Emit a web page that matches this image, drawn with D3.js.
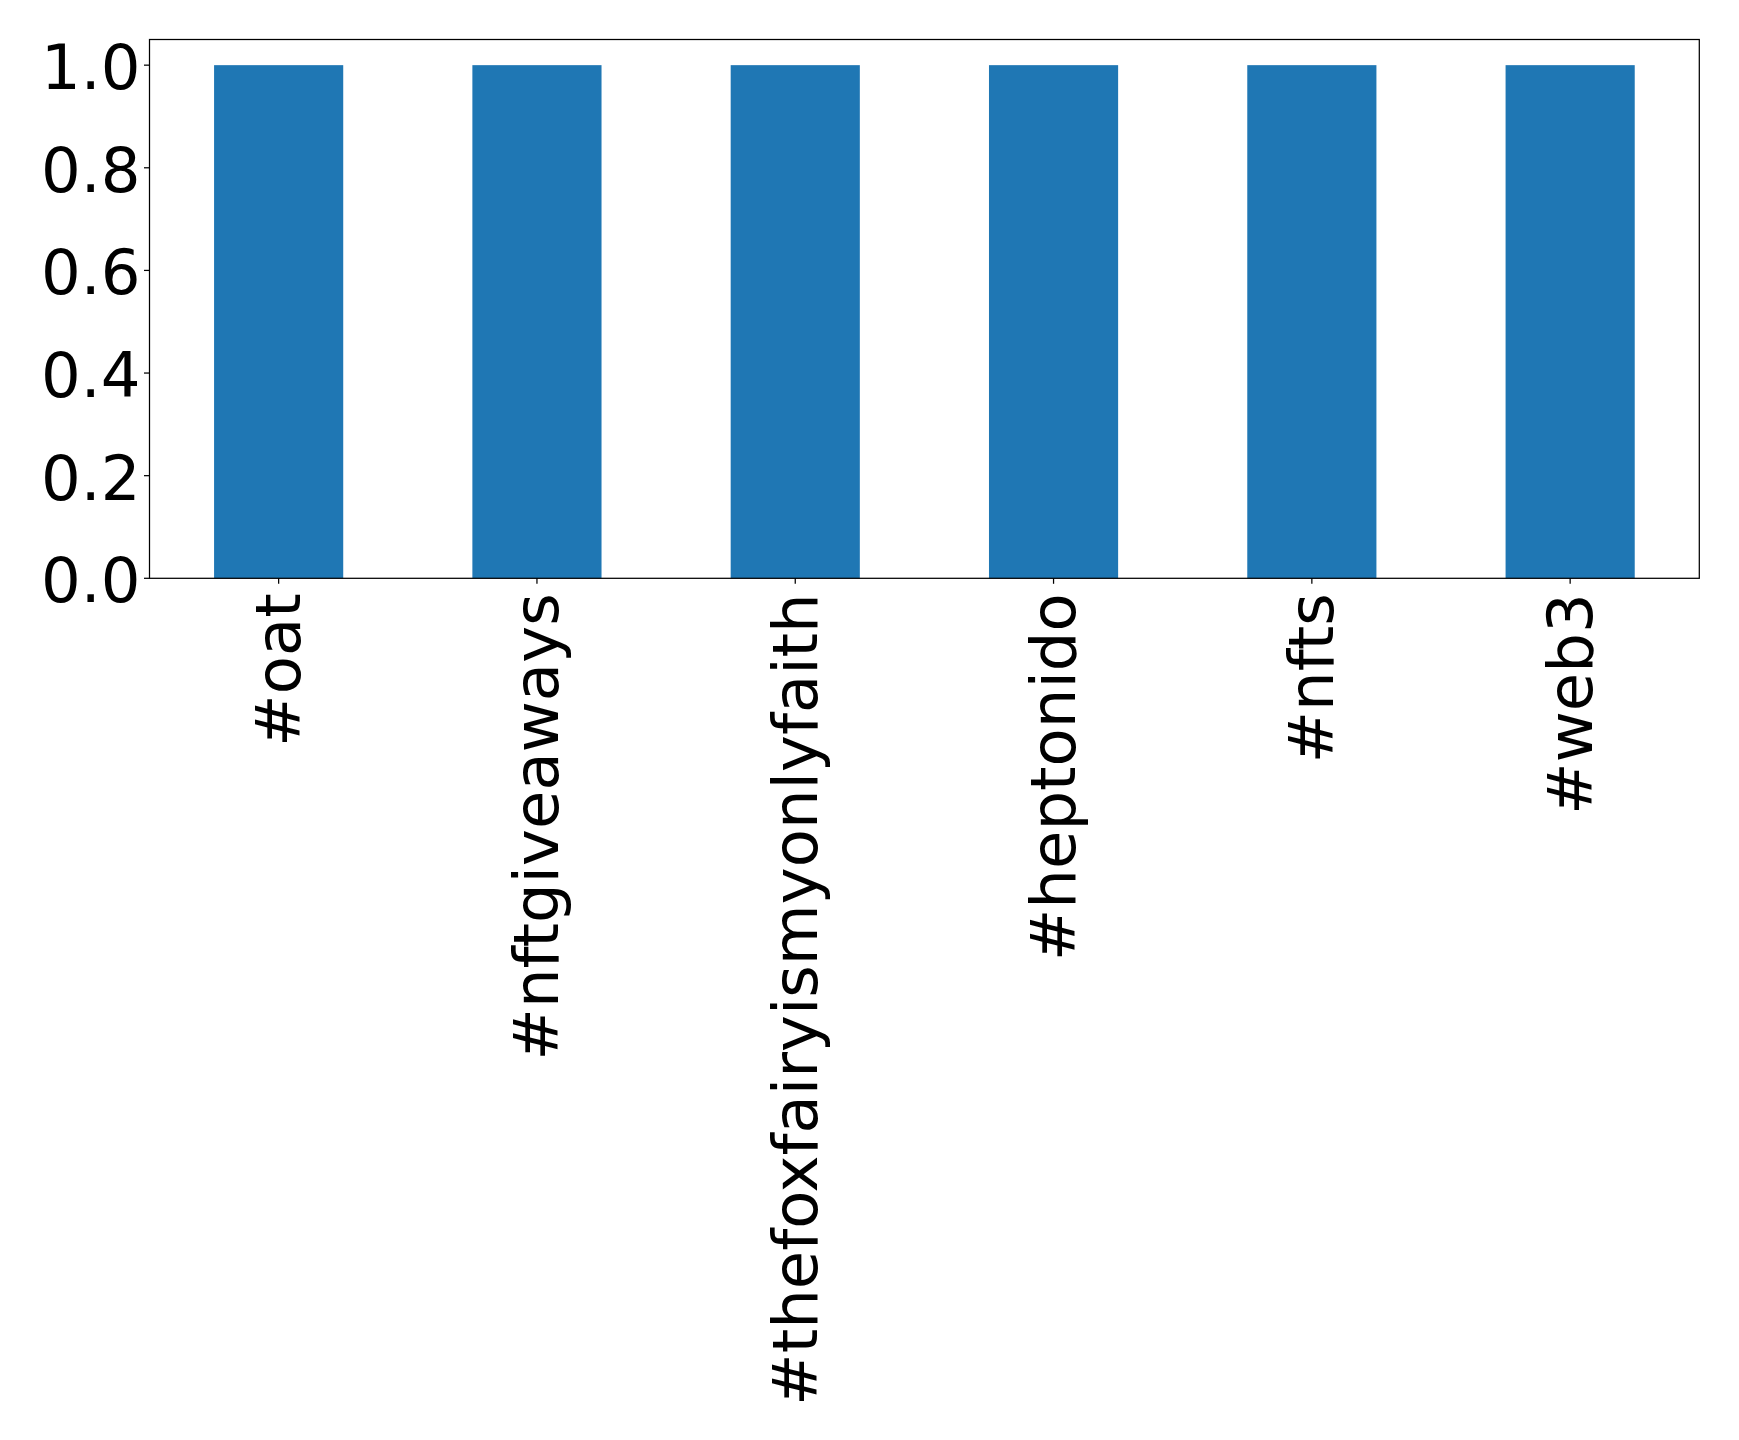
<!DOCTYPE html>
<html><head><meta charset="utf-8">
<script src="https://cdn.jsdelivr.net/npm/d3@7"></script>
<style>body{margin:0;background:#fff}svg{display:block}</style>
</head><body>
<script>
const categories = ["#oat","#nftgiveaways","#thefoxfairyismyonlyfaith","#heptonido","#nfts","#web3"];
const values = [1,1,1,1,1,1];
const yTicks = [0,0.2,0.4,0.6,0.8,1.0];

const W = 1739, H = 1440;
const m = {left:149.5, right:1699.3, top:39.5, bottom:578.3};
const fs = 62.5;

const svg = d3.select("body").append("svg").attr("width",W).attr("height",H);

const x = d3.scaleLinear().domain([-0.5, categories.length-0.5]).range([m.left, m.right]);
const y = d3.scaleLinear().domain([0, 1.05]).range([m.bottom, m.top]);

svg.selectAll("rect.bar").data(values).enter().append("rect")
  .attr("x",(d,i)=>x(i-0.25)).attr("width",(d,i)=>x(i+0.25)-x(i-0.25))
  .attr("y",d=>y(d)).attr("height",d=>y(0)-y(d)).attr("fill","#1f77b4");

// frame
svg.append("rect").attr("x",m.left).attr("y",m.top).attr("width",m.right-m.left).attr("height",m.bottom-m.top)
  .attr("fill","none").attr("stroke","#000").attr("stroke-width",1.25);

// y axis
const yAxis = svg.append("g");
yTicks.forEach(t=>{
  yAxis.append("line").attr("x1",m.left-5.5).attr("x2",m.left).attr("y1",y(t)).attr("y2",y(t)).attr("stroke","#000").attr("stroke-width",1.25);
  yAxis.append("text").attr("x",m.left-9).attr("y",y(t)+24).attr("text-anchor","end")
    .attr("font-family","DejaVu Sans").attr("font-size",fs).text(t.toFixed(1));
});

// x axis
const xAxis = svg.append("g");
categories.forEach((c,i)=>{
  xAxis.append("line").attr("x1",x(i)).attr("x2",x(i)).attr("y1",m.bottom).attr("y2",m.bottom+5.5).attr("stroke","#000").attr("stroke-width",1.25);
  xAxis.append("text").attr("transform",`translate(${x(i)+21.5},${m.bottom+15}) rotate(-90)`)
    .attr("text-anchor","end").attr("font-family","DejaVu Sans").attr("font-size",fs).text(c);
});
</script>
</body></html>
